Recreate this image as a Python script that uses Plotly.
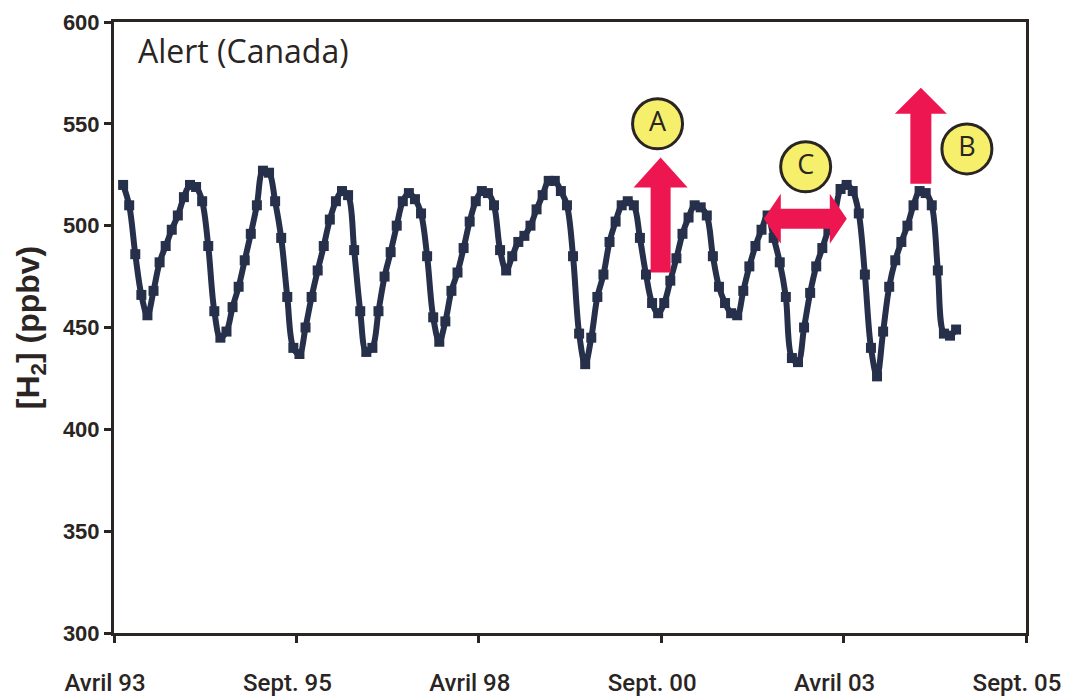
import plotly.graph_objects as go

# Monthly mean H2 mixing ratio at Alert (Canada), starting May 1993
start_year, start_month = 1993, 5
h2_ppbv = [
    520, 510, 486, 466, 456, 468, 482, 490, 498, 505, 514, 520,
    519, 512, 490, 458, 445, 448, 460, 470, 483, 496, 510, 527,
    526, 512, 494, 465, 440, 437, 450, 465, 478, 490, 503, 512,
    517, 515, 488, 458, 438, 440, 458, 475, 487, 500, 512, 516,
    513, 506, 485, 455, 443, 453, 468, 477, 489, 502, 512, 517,
    516, 510, 488, 478, 485, 492, 495, 500, 508, 515, 522, 522,
    517, 510, 485, 447, 432, 445, 465, 476, 492, 502, 510, 512,
    510, 494, 476, 462, 457, 462, 473, 484, 496, 504, 510, 509,
    505, 485, 470, 462, 457, 456, 468, 480, 490, 498, 505, 494,
    482, 465, 435, 433, 450, 467, 480, 489, 498, 505, 518, 520,
    517, 506, 476, 440, 426, 448, 470, 483, 492, 500, 510, 517,
    516, 510, 478, 447, 446, 449,
]

tick_positions = [1993.25, 1995.75, 1998.25, 2000.75, 2003.25, 2005.75]
tick_labels = ["Avril 93", "Sept. 95", "Avril 98", "Sept. 00", "Avril 03", "Sept. 05"]
y_ticks = [300, 350, 400, 450, 500, 550, 600]

# Circled labels for the annotated features
marker_labels = ["A", "C", "B"]
marker_x = [2000.70, 2002.73, 2004.94]
marker_y = [550.0, 528.9, 537.7]

# mid-month positions as decimal years
months_x = [start_year + (start_month - 1 + i + 0.5) / 12 for i in range(len(h2_ppbv))]

NAVY = "#27304a"
INK = "#2a2523"
RED = "#ee1650"
YELLOW = "#f6ef6c"

fig = go.Figure()
fig.add_trace(go.Scatter(
    x=months_x, y=h2_ppbv, mode="lines+markers",
    line=dict(color=NAVY, width=6, shape="spline", smoothing=1.0),
    marker=dict(symbol="square", size=10, color=NAVY),
    showlegend=False, hoverinfo="skip",
))


def arrow_path(points):
    return "M " + " L ".join(f"{px},{py}" for px, py in points) + " Z"


def up_arrow(x, y, half_w, shaft_len, head_half, head_len):
    """Upward block arrow; sizes in pixels, anchored at its base centre."""
    pts = [(-half_w, 0), (-half_w, shaft_len), (-head_half, shaft_len), (0, shaft_len + head_len),
           (head_half, shaft_len), (half_w, shaft_len), (half_w, 0)]
    return dict(type="path", xref="x", yref="y", xsizemode="pixel", ysizemode="pixel",
                xanchor=x, yanchor=y, path=arrow_path(pts), fillcolor=RED,
                line=dict(width=0), layer="above")


def double_arrow(x, y, half_len, half_t, head_len, head_half):
    """Horizontal double-headed arrow; sizes in pixels, anchored at its centre."""
    pts = [(-half_len, 0), (-half_len + head_len, head_half), (-half_len + head_len, half_t),
           (half_len - head_len, half_t), (half_len - head_len, head_half), (half_len, 0),
           (half_len - head_len, -head_half), (half_len - head_len, -half_t),
           (-half_len + head_len, -half_t), (-half_len + head_len, -head_half)]
    return dict(type="path", xref="x", yref="y", xsizemode="pixel", ysizemode="pixel",
                xanchor=x, yanchor=y, path=arrow_path(pts), fillcolor=RED,
                line=dict(width=0), layer="above")


fig.add_shape(up_arrow(2000.742, 477.0, 10, 85, 27, 30))
fig.add_shape(up_arrow(2004.309, 520.6, 10.5, 70, 26, 26))
fig.add_shape(double_arrow(2002.725, 503.4, 41.5, 10, 17, 25))

fig.add_trace(go.Scatter(
    x=marker_x, y=marker_y, mode="markers+text", text=marker_labels,
    textposition="middle center",
    textfont=dict(family="Open Sans", size=27, color=INK),
    marker=dict(symbol="circle", size=50, color=YELLOW, line=dict(color=INK, width=3)),
    showlegend=False, hoverinfo="skip", cliponaxis=False,
))

fig.add_annotation(
    text="Alert (Canada)", xref="paper", yref="paper", x=0.024, y=0.953,
    xanchor="left", yanchor="middle", showarrow=False,
    font=dict(family="Open Sans", size=32, color=INK),
)

fig.update_layout(
    width=1069, height=700,
    margin=dict(l=114, r=43, t=22, b=67),
    paper_bgcolor="white", plot_bgcolor="white",
)
fig.update_xaxes(
    range=[1993.25, 2005.75], tickvals=tick_positions, ticktext=tick_labels,
    ticks="outside", ticklen=7, tickwidth=2.5, tickcolor=INK,
    showline=True, linewidth=3, linecolor=INK, mirror=True,
    showgrid=False, zeroline=False, automargin=False,
    tickfont=dict(family="Roboto", size=24, color=INK, weight=500),
    ticklabelstandoff=19, ticklabelshift=-9,
)
fig.update_yaxes(
    range=[300, 600], tickvals=y_ticks,
    ticks="outside", ticklen=7, tickwidth=2.5, tickcolor=INK,
    showline=True, linewidth=3, linecolor=INK, mirror=True,
    showgrid=False, zeroline=False, automargin=False,
    tickfont=dict(family="Liberation Sans", size=22, color=INK, weight="bold"),
    title=dict(text="[H<sub>2</sub>] (ppbv)", standoff=14,
               font=dict(family="Liberation Sans", size=32, color=INK, weight="bold")),
)

fig.write_html("out.html")
